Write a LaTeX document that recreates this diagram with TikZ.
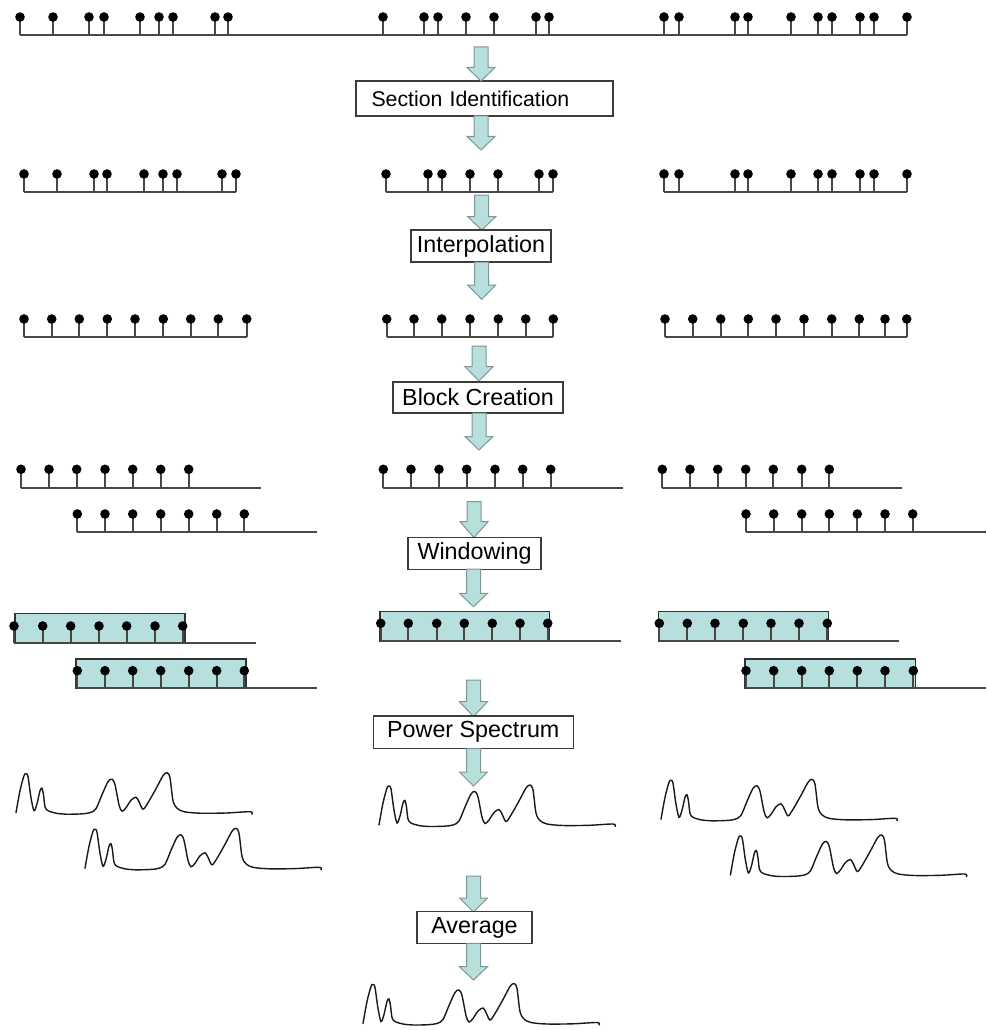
\documentclass[tikz,border=0pt]{standalone}
\usepackage{fontspec}
\setmainfont{Liberation Sans}
\definecolor{teal1}{RGB}{183,223,222}
\definecolor{arrline}{RGB}{125,150,150}
\definecolor{boxline}{RGB}{60,60,60}
\tikzset{
  stemline/.style={line width=1.9pt, black!72},
  baseln/.style={line width=1.7pt, black!72},
  dotf/.style={fill=black},
  procbox/.style={draw=boxline, line width=1.3pt, fill=white, inner sep=0pt, minimum height=32pt, font=\fontsize{23.3}{26}\selectfont},
  winrect/.style={draw=black!80, line width=1.5pt, fill=teal1},
  barrow/.style={draw=arrline, line width=1pt, fill=teal1, line join=miter},
  specline/.style={line width=1.4pt, black!90, line cap=round},
  spec/.pic={\draw[specline] plot[smooth,tension=0.5] coordinates {
    (0,0) (4,-22) (8,-37) (10,-39) (12,-36) (15,-15) (18,-2) (21,-9) (24,-22) (26,-24.5)
    (27.5,-18) (29,-6) (32,-2) (40,0.5) (50,1.5) (65,1.2) (74,0) (80,-4) (86,-18) (92,-31)
    (96,-33.5) (99,-28) (103,-8) (106,-1.5) (110,-5) (115,-12.5) (120,-15.5) (123,-11)
    (127,-3.5) (132,-10) (140,-24) (147,-37) (151,-40) (154,-35) (157,-12) (161,-4.5)
    (168,-1) (184,0.5) (210,0.3) (234,-1) (236,1.5)};}
}
\newcommand{\stemrow}[4]{% #1 dot y, #2 base y, #3 list of x, #4 line end x
  \foreach \xx [count=\ii] in {#3} {
    \ifnum\ii=1 \draw[baseln] (\xx,#2) -- (#4,#2); \fi
    \draw[stemline] (\xx,#2) -- (\xx,#1);
    \fill[dotf] (\xx,#1) circle (4.8);
  }}
\newcommand{\blockarrow}[4]{% #1 cx, #2 top y, #3 head y, #4 tip y
  \draw[barrow] (#1-7,#2) -- (#1+7,#2) -- (#1+7,#3) -- (#1+14,#3) -- (#1,#4)
    -- (#1-14,#3) -- (#1-7,#3) -- cycle;}
\begin{document}
\begin{tikzpicture}[x=1pt,y=-1pt]
\useasboundingbox (0,0) rectangle (986,1030);

% Row 1: raw samples
\stemrow{17}{35}{20,53,89,104,140,159,173,215,228,383,424,438,466,494,536,549,664,679,735,748,791,818,832,860,874,907}{907}

% Section identification
\node[procbox, draw=boxline, minimum width=257pt, minimum height=35pt, text width=226pt, align=left, inner xsep=15.5pt, font=\fontsize{21.3}{24}\selectfont] (secid) at (484.5,98.5) {Section Identification};
\blockarrow{481}{47}{67.5}{81}
\blockarrow{481}{116}{136.5}{150}

% Row 2: sections
\stemrow{174}{191.7}{24,57,94,107,144,163,177,222,236}{236}
\stemrow{174}{191.7}{386,428,442,470,498,539,553}{553}
\stemrow{174}{191.7}{664,679,735,748,791,818,832,860,874,907}{907}

\blockarrow{481.7}{195}{216.7}{230}
\node[procbox, minimum width=140pt] (interp) at (481,246) {Interpolation};
\blockarrow{481.7}{262}{285}{299.3}

% Row 3: interpolated
\stemrow{319}{336.7}{24,51.7,79.3,107.3,135,163.3,190.7,218.3,246.7}{246.7}
\stemrow{319}{336.7}{386.7,414,441.7,470,498.3,525.7,553.3}{553.3}
\stemrow{319}{336.7}{665,692.7,720.7,748.3,776,804,831.7,859.3,885,906.7}{906.7}

\blockarrow{479}{346}{366.7}{381}
\node[procbox, minimum width=170pt, minimum height=31pt] (block) at (478,397.5) {Block Creation};
\blockarrow{479}{413}{436.5}{450}

% Row 4: blocks
\stemrow{469.3}{487.7}{21,49,76.7,105,132.7,160.7,188.7}{261}
\stemrow{514}{532}{77.3,105,132.7,160.7,188.7,216.7,244.3}{317}
\stemrow{469.3}{487.7}{383.3,411,439,466.7,495,522.7,550.7}{623}
\stemrow{469.3}{487.7}{662.3,690,717.7,745.7,773.3,801.7,829.3}{902}
\stemrow{514}{532}{746,773.7,801.7,829.3,857.3,885,912.7}{986}

\blockarrow{474}{501.7}{521.7}{537.5}
\node[procbox, minimum width=133pt, minimum height=31.5pt] (window) at (474.5,553.5) {Windowing};
\blockarrow{473.5}{569}{593.3}{606.7}

% Row 5: windowed blocks
\draw[winrect] (15,613.3) rectangle (185,643);
\stemrow{626}{643}{14,42.7,70.7,99,126.7,155,182.7}{256}
\draw[winrect] (76,659) rectangle (246,688.3);
\stemrow{670.7}{688.3}{77.3,105,132.7,160.7,188.7,216.7,244.3}{317}
\draw[winrect] (380,611.7) rectangle (549.3,641);
\stemrow{623.3}{641}{380.7,408.3,436.7,464.3,492.3,520,547.7}{621}
\draw[winrect] (658.3,611.7) rectangle (828.3,641);
\stemrow{623.3}{641}{659.3,687.3,715,743.3,771,799,827.3}{899}
\draw[winrect] (745,659) rectangle (915.7,688.3);
\stemrow{670.7}{688.3}{746,773.7,801.7,829.3,857.3,885,913.3}{986}

\blockarrow{473.5}{680}{701.7}{716.5}
\node[procbox, minimum width=200pt, minimum height=32.5pt] (power) at (473.3,732.2) {Power Spectrum};
\blockarrow{473.5}{748.5}{772}{786}

% Spectra
\pic at (16,812.7) {spec};
\pic at (85,868.3) {spec};
\pic at (379,825) {spec};
\pic at (661,819.3) {spec};
\pic at (730.4,875) {spec};

\blockarrow{473.5}{876}{898}{912}
\node[procbox, minimum width=115pt, minimum height=31.5pt] (avg) at (474.5,927.5) {Average};
\blockarrow{473.5}{943.3}{966.7}{980}

\pic at (363,1023.5) {spec};
\end{tikzpicture}
\end{document}
